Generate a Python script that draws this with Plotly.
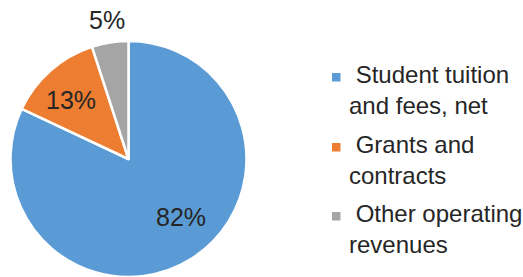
import math
import plotly.graph_objects as go

categories = ["Student tuition<br>and fees, net", "Grants and<br>contracts", "Other operating<br>revenues"]
shares = [82, 13, 5]
colors = ["#5B9BD5", "#ED7D31", "#A5A5A5"]

W, H = 523, 277
FONT = "Liberation Sans, Arial, sans-serif"
TEXT_COLOR = "#262626"

# pie geometry (pixels)
CX, CY, R = 128.5, 159.0, 118.0
dom_x = [(CX - R) / W, (CX + R) / W]
dom_y = [(H - CY - R) / H, (H - CY + R) / H]

# label placement style: (radial fraction of R, angular shift in degrees from slice bisector)
LABEL_PLACEMENT = [(0.66, -9.5), (0.70, -3.0), (1.19, 0.0)]

total = sum(shares)
pct_text = [f"{round(100 * v / total)}%" for v in shares]

fig = go.Figure(go.Pie(
    labels=categories,
    values=shares,
    sort=False,
    direction="clockwise",
    rotation=0,
    marker=dict(colors=colors, line=dict(color="white", width=2.5)),
    textinfo="none",
    domain=dict(x=dom_x, y=dom_y),
    hoverinfo="skip",
    showlegend=False,
))

annotations = []
# percentage labels placed relative to each slice's bisector
cum = 0
for v, t, (rf, shift) in zip(shares, pct_text, LABEL_PLACEMENT):
    mid = (cum + v / 2) / total * 2 * math.pi + math.radians(shift)
    cum += v
    rl = rf * R
    px = CX + rl * math.sin(mid)
    py = CY - rl * math.cos(mid)
    annotations.append(dict(
        x=px / W, y=1 - py / H, xref="paper", yref="paper",
        text=t, showarrow=False, xanchor="center", yanchor="middle",
        font=dict(family=FONT, size=25, color=TEXT_COLOR),
    ))

# manual legend
LEG_SQ_X = 332
LEG_TEXT_X = 347
LEG_FIRST_LINE_Y = [77, 147, 216]
LINE_H = 24 * 1.3
shapes = []
for cat, col, y1 in zip(categories, colors, LEG_FIRST_LINE_Y):
    shapes.append(dict(
        type="rect", xref="paper", yref="paper",
        x0=LEG_SQ_X / W, x1=(LEG_SQ_X + 8.5) / W,
        y0=1 - (y1 + 4.5) / H, y1=1 - (y1 - 4) / H,
        fillcolor=col, line=dict(width=0),
    ))
    annotations.append(dict(
        x=LEG_TEXT_X / W, y=1 - (y1 - LINE_H / 2 - 2) / H,
        xref="paper", yref="paper",
        text="\u00a0" + cat, showarrow=False, xanchor="left", yanchor="top",
        align="left",
        font=dict(family=FONT, size=24, color=TEXT_COLOR),
    ))

fig.update_layout(
    width=W, height=H,
    margin=dict(l=0, r=0, t=0, b=0),
    paper_bgcolor="white",
    plot_bgcolor="white",
    annotations=annotations,
    shapes=shapes,
)

fig.write_html(
    "out.html",
    config={"displayModeBar": False},
    post_script="document.body.style.margin='0';document.body.style.overflow='hidden';",
)
